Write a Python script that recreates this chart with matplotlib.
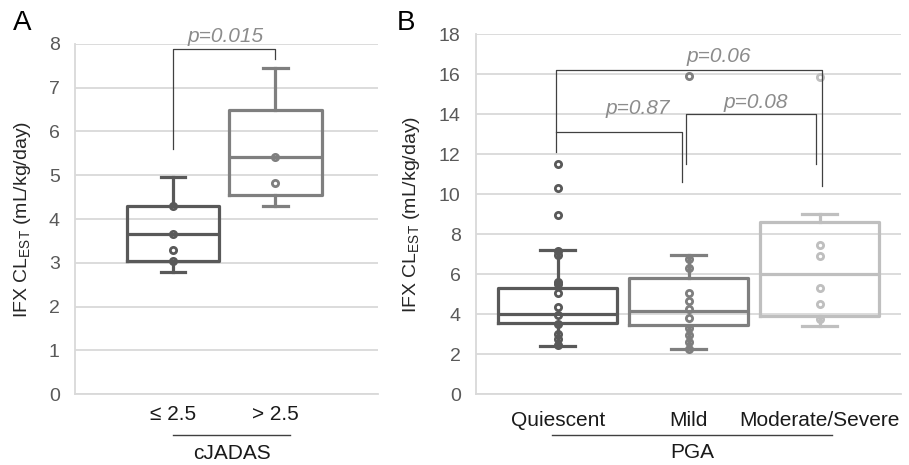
import matplotlib
matplotlib.use("Agg")
import matplotlib.pyplot as plt

plt.rcParams['font.family'] = ['Liberation Sans', 'DejaVu Sans']

# ---------------- Data ----------------
# Panel A: cJADAS
a_categories = ["\u2264 2.5", "> 2.5"]
a_q1 = [3.05, 4.55]
a_med = [3.65, 5.42]
a_q3 = [4.30, 6.48]
a_whislo = [2.80, 4.30]
a_whishi = [4.96, 7.46]
a_points = [[4.30, 3.65, 3.30, 3.05], [5.42, 4.82]]
a_outliers = [[], []]
a_colors = ["#595959", "#7f7f7f"]

# Panel B: PGA
b_categories = ["Quiescent", "Mild", "Moderate/Severe"]
b_q1 = [3.57, 3.45, 3.90]
b_med = [4.02, 4.15, 6.03]
b_q3 = [5.32, 5.83, 8.63]
b_whislo = [2.42, 2.25, 3.40]
b_whishi = [7.20, 6.97, 9.02]
b_points = [[7.15, 6.95, 5.60, 5.50, 5.05, 4.35, 3.95, 3.50, 3.00, 2.75, 2.48],
            [6.75, 6.30, 5.08, 4.65, 4.25, 3.83, 3.30, 2.95, 2.60, 2.28],
            [7.45, 6.90, 5.30, 4.50, 3.75]]
b_outliers = [[11.5, 10.3, 8.97], [15.9], [15.85]]
b_colors = ["#595959", "#7f7f7f", "#bfbfbf"]

GRID = "#d9d9d9"
TICKC = "#595959"
PCOL = "#8c8c8c"
BRK = "#404040"

fig = plt.figure(figsize=(9.09, 4.65), dpi=100)
axA = fig.add_axes([75/909, 1-394/465, (378-75)/909, 350/465])
axB = fig.add_axes([476/909, 1-394.3/465, (901-476)/909, 360/465])


def draw_boxes(ax, q1, med, q3, lo, hi, pts, outl, colors, width, capw):
    for i in range(len(q1)):
        stats = [dict(med=med[i], q1=q1[i], q3=q3[i], whislo=lo[i], whishi=hi[i], fliers=[])]
        c = colors[i]
        lw = 2.3
        ax.bxp(stats, positions=[i + 1], widths=width, capwidths=capw, showfliers=False,
               boxprops=dict(color=c, linewidth=lw),
               whiskerprops=dict(color=c, linewidth=lw),
               capprops=dict(color=c, linewidth=lw),
               medianprops=dict(color=c, linewidth=lw),
               manage_ticks=False, zorder=3)
        allp = list(pts[i]) + list(outl[i])
        ax.plot([i + 1] * len(allp), allp, linestyle='none', marker='o', markersize=4.5,
                markerfacecolor='none', markeredgecolor=c, markeredgewidth=2.0, zorder=4)


def style(ax, ymax, step):
    ax.set_ylim(0, ymax)
    ax.set_yticks(range(0, ymax + 1, step))
    ax.yaxis.grid(True, color=GRID, linewidth=1.3)
    ax.set_axisbelow(True)
    for s in ['top', 'right']:
        ax.spines[s].set_visible(False)
    for s in ['left', 'bottom']:
        ax.spines[s].set_color(GRID)
        ax.spines[s].set_linewidth(1.3)
    ax.tick_params(axis='y', length=0, pad=11, labelsize=14, labelcolor=TICKC)
    ax.tick_params(axis='x', length=0, labelsize=15, labelcolor='#1a1a1a')


# Panel A
draw_boxes(axA, a_q1, a_med, a_q3, a_whislo, a_whishi, a_points, a_outliers, a_colors, 0.9, 0.24)
style(axA, 8, 1)
axA.set_xlim(0.044, 3.0)
axA.set_xticks([1, 2])
axA.set_xticklabels(a_categories)
axA.tick_params(axis='x', pad=8)
axA.set_ylabel("IFX CL$_\\mathregular{EST}$ (mL/kg/day)", fontsize=14, color='#262626')
axA.yaxis.set_label_coords(-0.14, 0.5)
axA.plot([1, 1, 2, 2], [5.6, 7.89, 7.89, 7.65], color=BRK, linewidth=0.9, clip_on=False, zorder=5)
axA.text(1.51, 8.17, "p=0.015", ha='center', va='center', fontsize=15, style='italic', color=PCOL)
axA.plot([1.0, 2.14], [-0.117, -0.117], transform=axA.get_xaxis_transform(), color=BRK,
         linewidth=1.0, clip_on=False)
axA.text(1.58, -0.169, "cJADAS", transform=axA.get_xaxis_transform(), ha='center', va='center',
         fontsize=15, color='#1a1a1a')

# Panel B
draw_boxes(axB, b_q1, b_med, b_q3, b_whislo, b_whishi, b_points, b_outliers, b_colors, 0.91, 0.27)
style(axB, 18, 2)
axB.set_xlim(0.377, 3.62)
axB.set_xticks([1, 2, 3])
axB.set_xticklabels(b_categories)
axB.tick_params(axis='x', pad=12)
axB.set_ylabel("IFX CL$_\\mathregular{EST}$ (mL/kg/day)", fontsize=14, color='#262626')
axB.yaxis.set_label_coords(-0.128, 0.5)
axB.plot([0.985, 0.985, 3.02, 3.02], [12.1, 16.2, 16.2, 10.4], color=BRK, linewidth=0.9, zorder=5)
axB.plot([0.985, 1.95, 1.95], [13.1, 13.1, 10.6], color=BRK, linewidth=0.9, zorder=5)
axB.plot([1.98, 1.98, 2.974, 2.974], [11.5, 14.0, 14.0, 11.5], color=BRK, linewidth=0.9, zorder=5)
axB.text(2.23, 16.9, "p=0.06", ha='center', va='center', fontsize=15, style='italic', color=PCOL)
axB.text(1.61, 14.3, "p=0.87", ha='center', va='center', fontsize=15, style='italic', color=PCOL)
axB.text(2.51, 14.6, "p=0.08", ha='center', va='center', fontsize=15, style='italic', color=PCOL)
axB.plot([0.96, 3.09], [-0.113, -0.113], transform=axB.get_xaxis_transform(), color=BRK,
         linewidth=1.0, clip_on=False)
axB.text(2.03, -0.163, "PGA", transform=axB.get_xaxis_transform(), ha='center', va='center',
         fontsize=15, color='#1a1a1a')

fig.text(22/909, 1-23/465, "A", fontsize=20, ha='center', va='center', color='black')
fig.text(406/909, 1-23/465, "B", fontsize=20, ha='center', va='center', color='black')

fig.savefig("out.png", dpi=100)
